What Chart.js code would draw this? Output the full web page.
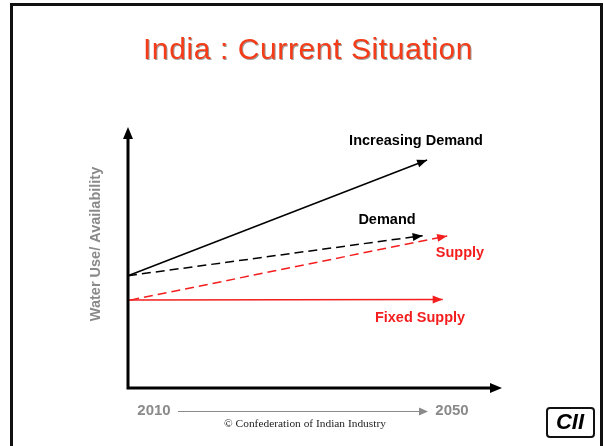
<!DOCTYPE html>
<html>
<head>
<meta charset="utf-8">
<script src="https://cdn.jsdelivr.net/npm/chart.js@4.4.1/dist/chart.umd.min.js"></script>
<style>
  html, body { margin: 0; padding: 0; background: #fff; }
  canvas { display: block; }
</style>
</head>
<body>
<canvas id="waterChart" width="604" height="446"></canvas>
<script>
// Schematic values: x = year, y = water use / availability (relative index 0-100)
const seriesNames = ['Increasing Demand', 'Demand', 'Supply', 'Fixed Supply'];
const incDemandX = [2010, 2050.2];
const incDemandY = [43.2, 87.7];
const demandX = [2010, 2049.6];
const demandY = [43.2, 58.6];
const supplyX = [2010.3, 2052.9];
const supplyY = [33.8, 58.5];
const fixedX = [2010, 2052.3];
const fixedY = [33.8, 34.0];
const yearLabels = ['2010', '2050'];

const toPoints = (xs, ys) => xs.map((x, i) => ({ x: x, y: ys[i] }));

const RED = '#f41e1e';
const GREY = '#8a8a8a';

// Draws background, slide frame, title, axes, arrowheads and text labels
const slidePlugin = {
    id: 'slide',
    beforeDraw: (chart) => {
        const ctx = chart.ctx;
        ctx.save();
        ctx.fillStyle = '#fff';
        ctx.fillRect(0, 0, chart.width, chart.height);

        // slide frame
        ctx.strokeStyle = '#111';
        ctx.lineWidth = 3;
        ctx.beginPath();
        ctx.moveTo(11.5, 460);
        ctx.lineTo(11.5, 4.5);
        ctx.lineTo(601.5, 4.5);
        ctx.lineTo(601.5, 460);
        ctx.stroke();

        // title
        ctx.font = '30px "Liberation Sans", Arial, sans-serif';
        ctx.letterSpacing = '0.6px';
        ctx.textAlign = 'center';
        ctx.textBaseline = 'alphabetic';
        ctx.shadowColor = 'rgba(120,120,120,0.7)';
        ctx.shadowOffsetX = 1;
        ctx.shadowOffsetY = 1;
        ctx.fillStyle = '#f43c18';
        ctx.fillText('India : Current Situation', 308, 59);
        ctx.letterSpacing = '0px';
        ctx.restore();
    },
    afterDraw: (chart) => {
        const ctx = chart.ctx;
        const area = chart.chartArea;
        ctx.save();

        const arrowHead = (x, y, angle, len, half, color) => {
            ctx.save();
            ctx.translate(x, y);
            ctx.rotate(angle);
            ctx.fillStyle = color;
            ctx.beginPath();
            ctx.moveTo(0, 0);
            ctx.lineTo(-len, -half);
            ctx.lineTo(-len, half);
            ctx.closePath();
            ctx.fill();
            ctx.restore();
        };

        // axes
        ctx.strokeStyle = '#000';
        ctx.lineWidth = 3;
        ctx.beginPath();
        ctx.moveTo(area.left, area.top + 8);
        ctx.lineTo(area.left, area.bottom);
        ctx.lineTo(area.right - 6, area.bottom);
        ctx.stroke();
        arrowHead(area.left, area.top - 1, -Math.PI / 2, 12, 5, '#000');
        arrowHead(area.right + 2, area.bottom, 0, 12, 5, '#000');

        // arrowheads at the end of each series
        chart.data.datasets.forEach((ds, i) => {
            const pts = chart.getDatasetMeta(i).data;
            const a = pts[pts.length - 2], b = pts[pts.length - 1];
            const ang = Math.atan2(b.y - a.y, b.x - a.x);
            arrowHead(b.x, b.y, ang, 10, 4, ds.borderColor);
        });

        // series labels
        ctx.textAlign = 'center';
        ctx.textBaseline = 'middle';
        ctx.font = 'bold 14.5px "Liberation Sans", Arial, sans-serif';
        ctx.fillStyle = '#000';
        ctx.fillText(seriesNames[0], 416, 141);
        ctx.fillText(seriesNames[1], 387, 220);
        ctx.fillStyle = RED;
        ctx.fillText(seriesNames[2], 460, 253);
        ctx.fillText(seriesNames[3], 420, 318);

        // y axis title
        ctx.save();
        ctx.translate(96, 244);
        ctx.rotate(-Math.PI / 2);
        ctx.fillStyle = GREY;
        ctx.font = 'bold 14.5px "Liberation Sans", Arial, sans-serif';
        ctx.fillText('Water Use/ Availability', 0, 0);
        ctx.restore();

        // time line under the axis
        ctx.fillStyle = GREY;
        ctx.font = 'bold 15px "Liberation Sans", Arial, sans-serif';
        ctx.fillText(yearLabels[0], 154, 411);
        ctx.fillText(yearLabels[1], 452, 411);
        ctx.strokeStyle = GREY;
        ctx.lineWidth = 1;
        ctx.beginPath();
        ctx.moveTo(178, 411.5);
        ctx.lineTo(420, 411.5);
        ctx.stroke();
        arrowHead(428, 411.5, 0, 9, 4, GREY);

        ctx.fillStyle = '#222';
        ctx.font = '11.4px "Liberation Serif", "Times New Roman", serif';
        ctx.fillText('\u00A9 Confederation of Indian Industry', 305, 424);

        // CII logo
        ctx.strokeStyle = '#111';
        ctx.lineWidth = 2;
        ctx.beginPath();
        ctx.roundRect(547, 408, 47, 29, 3);
        ctx.stroke();
        ctx.fillStyle = '#000';
        ctx.font = 'italic 900 22px "Liberation Sans", Arial, sans-serif';
        ctx.fillText('CII', 570, 423);

        ctx.restore();
    }
};

const ctx = document.getElementById('waterChart').getContext('2d');
new Chart(ctx, {
    type: 'scatter',
    data: {
        datasets: [
            { label: seriesNames[0], data: toPoints(incDemandX, incDemandY), borderColor: '#000', borderWidth: 1.5 },
            { label: seriesNames[1], data: toPoints(demandX, demandY), borderColor: '#000', borderWidth: 1.5, borderDash: [9, 5] },
            { label: seriesNames[2], data: toPoints(supplyX, supplyY), borderColor: RED, borderWidth: 1.5, borderDash: [9, 5] },
            { label: seriesNames[3], data: toPoints(fixedX, fixedY), borderColor: RED, borderWidth: 1.5 }
        ].map(ds => Object.assign(ds, { showLine: true, pointRadius: 0, fill: false, clip: false }))
    },
    options: {
        responsive: false,
        animation: false,
        devicePixelRatio: 1,
        layout: { padding: { left: 128, top: 128, right: 104, bottom: 58 } },
        scales: {
            x: { type: 'linear', min: 2010, max: 2060, display: false },
            y: { type: 'linear', min: 0, max: 100, display: false }
        },
        plugins: {
            legend: { display: false },
            tooltip: { enabled: false }
        }
    },
    plugins: [slidePlugin]
});
</script>
</body>
</html>
